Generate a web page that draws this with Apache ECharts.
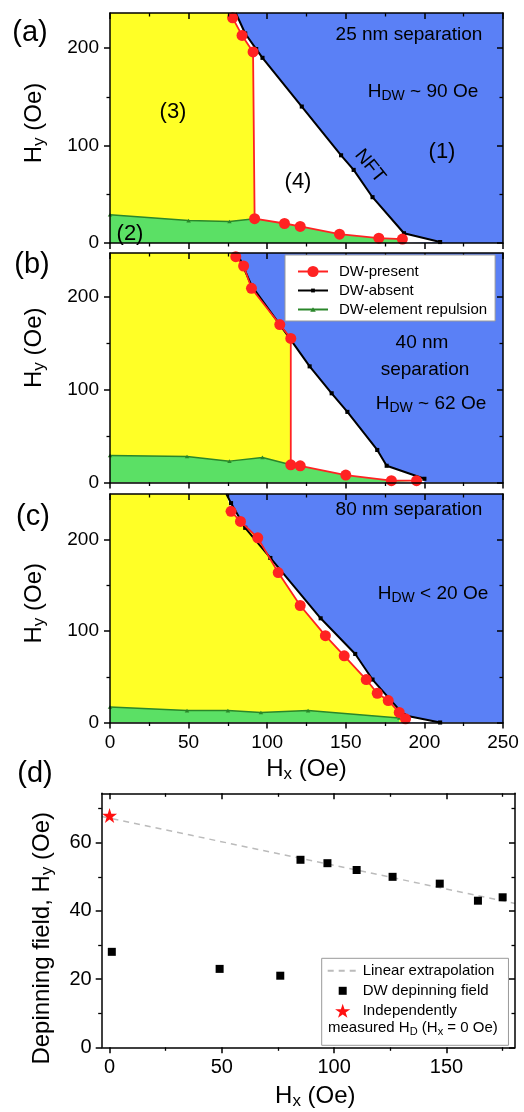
<!DOCTYPE html>
<html><head><meta charset="utf-8">
<script src="https://cdn.jsdelivr.net/npm/echarts@6/dist/echarts.min.js"></script>
<style>html,body{margin:0;padding:0;background:#fff}#c{width:524px;height:1112px}</style>
</head><body><div id="c"></div>
<script>
// ---------------- data ----------------
const hxTicks = [0, 50, 100, 150, 200, 250];
const hxMinor = [25, 75, 125, 175, 225];
const hyTicks = [0, 100, 200];
const hyMinor = [50, 150];
const depXTicks = [0, 50, 100, 150];
const depXMinor = [25, 75, 125, 175];
const depYTicks = [0, 20, 40, 60];
const depYMinor = [10, 30, 50, 70];

// (a) 25 nm separation
const presentA = [[78,231],[84,213],[91,196],[92,25],[111,20],[121,17],[146,9],[171,5],[186,4]];
const absentA = [[80,236],[86,215],[93,199],[97,190],[122,140],[147,90],[155,75],[167,47],[187,10],[210,1]];
const repulsionA = [[0,29],[50,23],[76,22],[92,25]];
// (b) 40 nm separation
const presentB = [[80,243],[85,233],[90,209],[108,170],[115,155],[115,19],[121,18],[150,8],[179,2],[195,2]];
const absentB = [[81,247],[90,212],[114,156],[127,125],[141,96],[151,76],[170,35],[176,18],[200,4]];
const repulsionB = [[0,29],[49,28],[76,23],[97,27],[115,19]];
// (c) 80 nm separation
const presentC = [[77,231],[83,220],[94,202],[107,164],[121,128],[137,95],[149,73],[163,47],[170,32],[177,24],[184,11],[188,4]];
const absentC = [[74,250],[77,240],[86,213],[102,180],[134,114],[156,75],[167,47],[187,8],[210,0]];
const repulsionC = [[0,17],[49,13],[75,13],[96,11],[126,13],[184,5]];
// (d) depinning field
const depinning = [[1,28],[49,23],[76,21],[85,55],[97,54],[110,52],[126,50],[147,48],[164,43],[175,44]];
const independent = [[0,68]];
const linearFit = [[-3.5,67.7],[180.5,42.2]];

// ---------------- styling ----------------
const FONT = "'Liberation Sans', Arial, sans-serif";
const BLUE = '#5a80f6', YELLOW = '#ffff26', GREEN = '#5be065', RED = '#ff2222', DKGREEN = '#2a862a';
const SQ_SMALL = 'path://M0,0M10,10M3.3,3.3h3.4v3.4h-3.4z';
const TRI_SMALL = 'path://M0,0M10,10M5,3L7.5,7H2.5z';
const SQ = 'path://M0,0M14,14M3,3h8v8h-8z';
const STAR = 'path://M50,0L61.8,35.1L100,35.1L69.1,56.7L80.9,91.9L50,70.3L19.1,91.9L30.9,56.7L0,35.1L38.2,35.1Z';

const subRich = (fs, pad) => ({ s: {fontSize: fs, fontFamily: FONT, color:'#000', padding:[pad,0,0,0]} });
const nameStyle = (padding) => ({fontSize:24, fontFamily:FONT, color:'#000', rich:subRich(17,10), padding});

const panels = [
  {grid:{left:110, top:13, width:393, height:230}, xmin:0, xmax:250, ymax:236, xt:hxTicks, xm:hxMinor, yt:hyTicks, ym:hyMinor,
   xLabel:null, xName:null, yLabel:{fontSize:19, margin:11},
   yName:{name:'H{s|y} (Oe)', nameGap:62, nameTextStyle:nameStyle([0,0,0,10])}, bg:BLUE},
  {grid:{left:110, top:253, width:393, height:229.5}, xmin:0, xmax:250, ymax:247, xt:hxTicks, xm:hxMinor, yt:hyTicks, ym:hyMinor,
   xLabel:null, xName:null, yLabel:{fontSize:19, margin:11},
   yName:{name:'H{s|y} (Oe)', nameGap:62, nameTextStyle:nameStyle([0,0,0,40])}, bg:BLUE},
  {grid:{left:110, top:494, width:393, height:228.5}, xmin:0, xmax:250, ymax:250, xt:hxTicks, xm:hxMinor, yt:hyTicks, ym:hyMinor,
   xLabel:{fontSize:19, margin:11}, xName:{name:'H{s|x} (Oe)', nameGap:33, nameTextStyle:nameStyle([0,0,0,0])},
   yLabel:{fontSize:19, margin:11},
   yName:{name:'H{s|y} (Oe)', nameGap:62, nameTextStyle:nameStyle([0,0,0,10])}, bg:BLUE},
  {grid:{left:101.7, top:793.3, width:413.3, height:254}, xmin:-3.5, xmax:180.5, ymax:74.5, xt:depXTicks, xm:depXMinor, yt:depYTicks, ym:depYMinor,
   xLabel:{fontSize:20, margin:10}, xName:{name:'H{s|x} (Oe)', nameGap:36, nameTextStyle:nameStyle([0,0,0,14])},
   yLabel:{fontSize:20, margin:10},
   yName:{name:'Depinning field, H{s|y} (Oe)', nameGap:46, nameTextStyle:nameStyle([0,36,0,0])}, bg:null}
];
const phase = [
  {present:presentA, absent:absentA, rep:repulsionA, split:3},
  {present:presentB, absent:absentB, rep:repulsionB, split:5},
  {present:presentC, absent:absentC, rep:repulsionC, split:presentC.length - 1}
];

const grids = [], xAxes = [], yAxes = [], series = [];
const HIDDEN_LABEL = {fontSize:1, color:'rgba(0,0,0,0)', margin:0};
function ax(g, position, min, max, vals, len, inside, line, label, nameOpt) {
  return Object.assign({type:'value', gridIndex:g, position, min, max, z:10, splitLine:{show:false},
    axisLine: {show: line, onZero:false, lineStyle:{color:'#000', width:1.5}},
    axisTick:{show:true, inside, customValues:vals, length:len, lineStyle:{color:'#000', width: len > 4 ? 1.5 : 1.3}},
    axisLabel: Object.assign({show:true, customValues:vals, color:'#000', fontFamily:FONT}, label || HIDDEN_LABEL)
  }, nameOpt ? Object.assign({nameLocation:'middle'}, nameOpt) : {});
}
// invisible helper series so that the tick-overlay axes are bound to a series
const anchor = (a, P) => ({type:'line', xAxisIndex:a, yAxisIndex:a, data:[[P.xt[0], P.yt[0]]], symbol:'none',
  silent:true, z:0, lineStyle:{opacity:0}, tooltip:{show:false}});

panels.forEach((P) => {
  const R = P.grid;
  const gMain = grids.length;
  grids.push(Object.assign({show: !!P.bg, backgroundColor: P.bg || 'transparent', borderWidth:0, outerBoundsMode:'none', containLabel:false}, R));
  const gMinor = grids.length;
  grids.push(Object.assign({show:false, outerBoundsMode:'none', containLabel:false}, R));
  P.axisIndex = xAxes.length;
  // main grid: bottom/left (labels, outward ticks) + top/right mirror (inward ticks)
  xAxes.push(ax(gMain, 'bottom', P.xmin, P.xmax, P.xt, 6, false, true, P.xLabel, P.xName));
  yAxes.push(ax(gMain, 'left', 0, P.ymax, P.yt, 6, false, true, P.yLabel, P.yName));
  xAxes.push(ax(gMain, 'top', P.xmin, P.xmax, P.xt, 6, true, true, null, null));
  yAxes.push(ax(gMain, 'right', 0, P.ymax, P.yt, 6, true, true, null, null));
  // minor-tick overlay grid
  const mi = xAxes.length;
  xAxes.push(ax(gMinor, 'bottom', P.xmin, P.xmax, P.xm, 3.5, false, false, null, null));
  yAxes.push(ax(gMinor, 'left', 0, P.ymax, P.ym, 3.5, false, false, null, null));
  xAxes.push(ax(gMinor, 'top', P.xmin, P.xmax, P.xm, 3.5, true, false, null, null));
  yAxes.push(ax(gMinor, 'right', 0, P.ymax, P.ym, 3.5, true, false, null, null));
  series.push(anchor(mi, P));
});

phase.forEach((Q, i) => {
  const P = panels[i], a = P.axisIndex;
  const topX = Math.min(Q.absent[0][0], Q.present[0][0]);
  const whiteFill = [[0, P.ymax]].concat(Q.absent);
  const yellowFill = [[0, P.ymax], [topX, P.ymax]].concat(Q.present.slice(0, Q.split + 1));
  const greenFill = Q.rep.concat(Q.present.slice(Q.split + 1));
  const fill = (data, color) => ({type:'line', xAxisIndex:a, yAxisIndex:a, data, symbol:'none',
    silent:true, z:1, lineStyle:{width:0, opacity:0}, areaStyle:{color, opacity:1}, tooltip:{show:false}});
  series.push(fill(whiteFill, '#ffffff'), fill(yellowFill, YELLOW), fill(greenFill, GREEN));
  series.push({type:'line', name:'DW-element repulsion', xAxisIndex:a, yAxisIndex:a, data:Q.rep,
    symbol:TRI_SMALL, symbolSize:9, z:3, color:DKGREEN, lineStyle:{color:DKGREEN, width:1.5}, itemStyle:{color:DKGREEN}});
  series.push({type:'line', name:'DW-absent', xAxisIndex:a, yAxisIndex:a,
    data:Q.absent.map((p, k) => k === 0 ? {value:p, symbol:'none'} : p),
    symbol:SQ_SMALL, symbolSize:12, z:4, color:'#000', lineStyle:{color:'#000', width:2}, itemStyle:{color:'#000'}});
  series.push({type:'line', name:'DW-present', xAxisIndex:a, yAxisIndex:a, data:Q.present,
    symbol:'circle', symbolSize:11, z:5, color:RED, lineStyle:{color:RED, width:1.8}, itemStyle:{color:RED}});
});

const d = panels[3].axisIndex;
series.push({type:'line', name:'Linear extrapolation', xAxisIndex:d, yAxisIndex:d, data:linearFit,
  symbol:'none', z:2, color:'#bbbbbb', lineStyle:{color:'#bbbbbb', width:1.5, type:[6,5]}});
series.push({type:'scatter', name:'DW depinning field', xAxisIndex:d, yAxisIndex:d, data:depinning,
  symbol:SQ, symbolSize:14, z:3, itemStyle:{color:'#000', opacity:1}});
series.push({type:'scatter', name:'Independently measured HD', xAxisIndex:d, yAxisIndex:d, data:independent,
  symbol:STAR, symbolSize:15, z:4, itemStyle:{color:'#ff1010', opacity:1}});

// ---------------- text ----------------
const annRich = {s:{fontSize:14, fontFamily:FONT, fill:'#000', padding:[9,0,0,0]}};
function T(text, x, y, size, extra) {
  return Object.assign({type:'text', x, y, z:100, silent:true,
    style:{text, fontSize:size, fontFamily:FONT, fill:'#000', align:'center', verticalAlign:'middle', rich:annRich}}, extra || {});
}
const graphic = [
  T('(a)', 30, 33, 29), T('(b)', 32, 265, 29), T('(c)', 33, 517, 29), T('(d)', 35, 774, 29),
  T('25 nm separation', 409, 35, 19), T('H{s|DW} ~ 90 Oe', 423, 92, 19),
  T('(3)', 173, 112, 22), T('(4)', 298, 182, 22), T('(1)', 442, 152, 22), T('(2)', 130, 234, 22),
  T('NFT', 370, 166, 19, {rotation:-0.89}),
  T('40 nm', 422, 343, 19), T('separation', 425, 370, 19), T('H{s|DW} ~ 62 Oe', 431, 404, 19),
  T('80 nm separation', 409, 510, 19), T('H{s|DW} < 20 Oe', 433, 594, 19),
  {type:'text', x:328, y:1028, z:100, silent:true,
   style:{text:'measured H{s|D} (H{s|x} = 0 Oe)', fontSize:15, fontFamily:FONT, fill:'#000', align:'left', verticalAlign:'middle',
     rich:{s:{fontSize:11, fontFamily:FONT, fill:'#000', padding:[7,0,0,0]}}}}
];

const chart = echarts.init(document.getElementById('c'), null, {renderer:'canvas'});
chart.setOption({
  animation:false,
  grid:grids, xAxis:xAxes, yAxis:yAxes, series, graphic,
  legend:[
    {left:285, top:255, orient:'vertical', selectedMode:false, z:20,
     data:['DW-present','DW-absent','DW-element repulsion'],
     itemWidth:30, itemHeight:14, itemGap:4, padding:[9,8,4,12],
     backgroundColor:'#fff', borderColor:'#999', borderWidth:1,
     textStyle:{fontSize:15, fontFamily:FONT, color:'#000', padding:[0,0,0,6]}},
    {left:321.7, top:958.3, orient:'vertical', selectedMode:false, z:20,
     data:[{name:'Linear extrapolation', itemStyle:{opacity:0}},'DW depinning field','Independently measured HD'],
     formatter: n => n === 'Independently measured HD' ? 'Independently' : n,
     itemWidth:30, itemHeight:14, itemGap:5, padding:[5,14,27,5],
     backgroundColor:'#fff', borderColor:'#999', borderWidth:1,
     textStyle:{fontSize:15, fontFamily:FONT, color:'#000'}}
  ]
});
</script></body></html>
